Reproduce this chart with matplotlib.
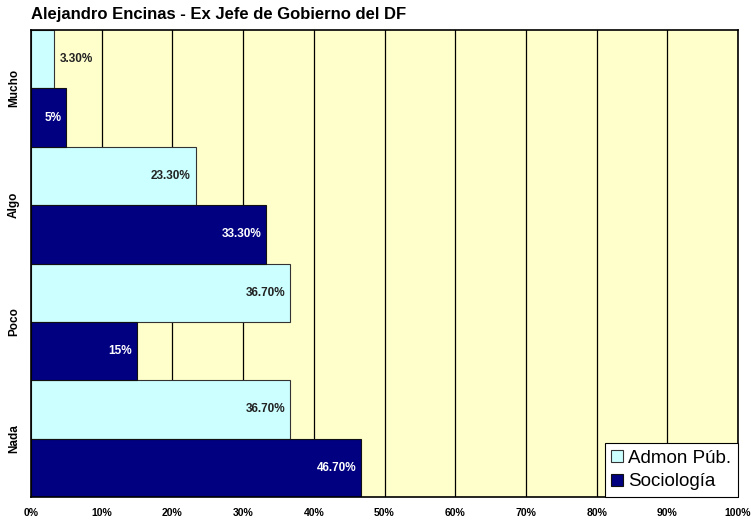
import matplotlib.pyplot as plt
import numpy as np

plt.rcParams['font.family'] = ['Liberation Sans', 'DejaVu Sans']

categories = ['Mucho', 'Algo', 'Poco', 'Nada']
admon = [3.3, 23.3, 36.7, 36.7]
sociologia = [5, 33.3, 15, 46.7]
admon_labels = ['3.30%', '23.30%', '36.70%', '36.70%']
socio_labels = ['5%', '33.30%', '15%', '46.70%']
xticks = [0, 10, 20, 30, 40, 50, 60, 70, 80, 90, 100]

fig = plt.figure(figsize=(7.51, 5.27), dpi=100)
ax = fig.add_axes([31 / 751, 30 / 527, 707 / 751, 467 / 527])
ax.set_facecolor('#FFFFCC')

y = np.arange(len(categories))
ax.set_axisbelow(True)
ax.grid(axis='x', color='black', linewidth=0.9)

b1 = ax.barh(y - 0.25, admon, height=0.5, color='#CCFFFF', edgecolor='#333333',
             linewidth=0.8, label='Admon Púb.')
b2 = ax.barh(y + 0.25, sociologia, height=0.5, color='#000080', edgecolor='#111111',
             linewidth=0.8, label='Sociología')

for i in range(len(categories)):
    if admon[i] < 8:
        ax.text(admon[i] + 0.7, y[i] - 0.25, admon_labels[i], ha='left', va='center',
                fontsize=8.5, fontweight='bold', color='#222222')
    else:
        ax.text(admon[i] - 0.7, y[i] - 0.25, admon_labels[i], ha='right', va='center',
                fontsize=8.5, fontweight='bold', color='#222222')
    ax.text(sociologia[i] - 0.7, y[i] + 0.25, socio_labels[i], ha='right', va='center',
            fontsize=8.5, fontweight='bold', color='white')

ax.set_xlim(0, 100)
ax.set_ylim(3.5, -0.5)
ax.set_xticks(xticks)
ax.set_xticklabels([f'{v}%' for v in xticks], fontsize=7.5, fontweight='bold')
ax.set_yticks(y)
ax.set_yticklabels(categories, rotation=90, va='center', fontsize=8.5, fontweight='bold')
ax.tick_params(length=0, pad=8)
for s in ax.spines.values():
    s.set_linewidth(1.2)

leg = ax.legend(loc='lower right', fontsize=13.5, fancybox=False, framealpha=1,
                edgecolor='black', borderaxespad=0, handlelength=0.6, handleheight=0.6,
                handletextpad=0.3, borderpad=0.35, labelspacing=0.35)
leg.get_frame().set_linewidth(0.8)

fig.text(31 / 751, 1 - 15 / 527, 'Alejandro Encinas - Ex Jefe de Gobierno del DF',
         fontsize=12, fontweight='bold', va='center', ha='left')

fig.savefig('out.png', dpi=100, facecolor='white')
